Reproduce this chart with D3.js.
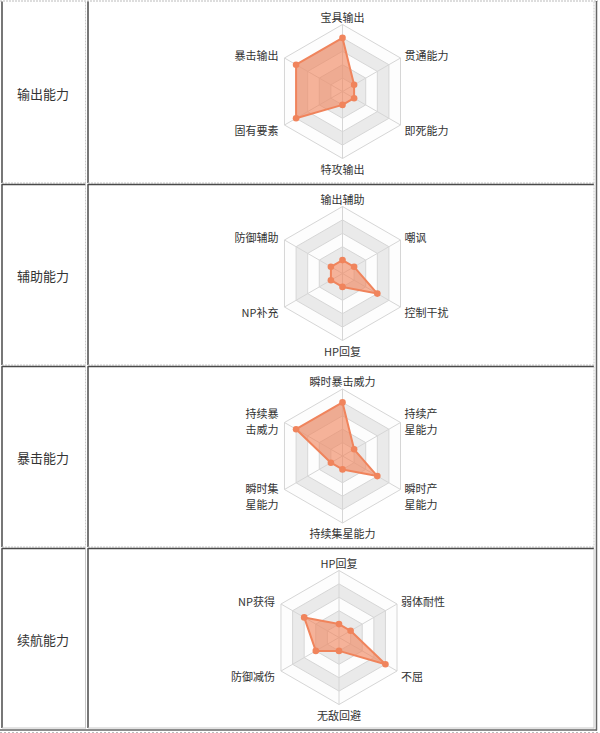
<!DOCTYPE html>
<html><head><meta charset="utf-8">
<script src="https://cdn.jsdelivr.net/npm/d3@7/dist/d3.min.js"></script>
<style>html,body{margin:0;padding:0;background:#fff;}svg{display:block;}</style>
</head><body>
<svg id="chart" width="600" height="733"></svg>
<script>
const rowTitles = ["输出能力", "辅助能力", "暴击能力", "续航能力"];
const axes1 = ["宝具输出", "贯通能力", "即死能力", "特攻输出", "固有要素", "暴击输出"];
const values1 = [4, 1, 1, 1, 4, 4];
const axes2 = ["输出辅助", "嘲讽", "控制干扰", "HP回复", "NP补充", "防御辅助"];
const values2 = [1, 1, 3, 1, 1, 1];
const axes3 = ["瞬时暴击威力", "持续产星能力", "瞬时产星能力", "持续集星能力", "瞬时集星能力", "持续暴击威力"];
const values3 = [4, 1, 3, 1, 1, 4];
const axes4 = ["HP回复", "弱体耐性", "不屈", "无敌回避", "防御减伤", "NP获得"];
const values4 = [1, 1, 4, 1, 2, 3];
const maxValue = 5;
const levels = [1, 2, 3, 4, 5];

const charts = [
  {axes: axes1, values: values1},
  {axes: axes2, values: values2},
  {axes: axes3, values: values3},
  {axes: axes4, values: values4}
];

const svg = d3.select("#chart");
const font = "'Noto Sans CJK SC', 'Noto Sans', sans-serif";
const rowTops = [1.5, 184.5, 366.5, 548.5];
const rowBottoms = [183, 365, 547, 728];
const centers = [[342.5, 91.5], [342.5, 273.5], [342.5, 456], [339, 637.5]];
const R = 67;
const dark = "#4a4a4a", light = "#c8c8c8";

// table borders
const g0 = svg.append("g");
g0.append("line").attr("x1", 0).attr("x2", 598).attr("y1", 1).attr("y2", 1)
  .attr("stroke", "#bbb").attr("stroke-dasharray", "2,1");
rowTops.forEach((t, i) => {
  const b = rowBottoms[i];
  [[2, 85.5], [88, 594]].forEach(([l, r]) => {
    if (i > 0) g0.append("line").attr("x1", l - 0.5).attr("x2", r).attr("y1", t).attr("y2", t)
      .attr("stroke", dark).attr("stroke-width", 1.5);
    g0.append("line").attr("x1", l).attr("x2", l).attr("y1", t).attr("y2", b)
      .attr("stroke", dark).attr("stroke-width", 1.5);
    g0.append("line").attr("x1", r).attr("x2", r).attr("y1", t).attr("y2", b + 0.5)
      .attr("stroke", light).attr("stroke-width", 1).attr("stroke-dasharray", i === 3 ? null : "2,1");
    g0.append("line").attr("x1", l).attr("x2", r).attr("y1", b).attr("y2", b)
      .attr("stroke", light).attr("stroke-width", 1).attr("stroke-dasharray", i === 3 ? null : "2,1");
  });
});
g0.append("line").attr("x1", 596.5).attr("x2", 596.5).attr("y1", 1).attr("y2", 730.5)
  .attr("stroke", "#666").attr("stroke-width", 1.5);
g0.append("line").attr("x1", 0).attr("x2", 597).attr("y1", 730).attr("y2", 730)
  .attr("stroke", "#666").attr("stroke-width", 1.5);
g0.append("line").attr("x1", 0).attr("x2", 598).attr("y1", 732.5).attr("y2", 732.5)
  .attr("stroke", "#bbb").attr("stroke-dasharray", "2,2");

// row titles
rowTitles.forEach((t, i) => {
  svg.append("text").attr("x", 43).attr("y", (rowTops[i] + rowBottoms[i]) / 2 + 1)
    .attr("text-anchor", "middle").attr("dominant-baseline", "central")
    .attr("font-family", font).attr("font-size", 13).attr("fill", "#333").text(t);
});

const rScale = d3.scaleLinear().domain([0, maxValue]).range([0, R]);
const angle = i => -Math.PI / 2 + i * Math.PI / 3;

charts.forEach((c, ci) => {
  const [cx, cy] = centers[ci];
  const g = svg.append("g").attr("transform", `translate(${cx},${cy})`);
  const n = c.axes.length;
  const pt = (i, v) => [rScale(v) * Math.cos(angle(i)), rScale(v) * Math.sin(angle(i))];
  const ringPath = v => d3.range(n).map(i => pt(i, v));
  const line = d3.line().curve(d3.curveLinearClosed);
  // split areas
  levels.slice().reverse().forEach(lv => {
    const inner = lv - 1;
    const fill = (lv % 2 === 0) ? "#eaeaea" : "#fdfdfd";
    const outer = ringPath(lv);
    let d = line(outer);
    if (inner > 0) d += line(ringPath(inner).slice().reverse());
    g.append("path").attr("d", d).attr("fill", fill).attr("fill-rule", "evenodd");
  });
  levels.forEach(lv => {
    g.append("path").attr("d", line(ringPath(lv))).attr("fill", "none")
      .attr("stroke", "#d6d6d6").attr("stroke-width", 1);
  });
  d3.range(n).forEach(i => {
    const [x, y] = pt(i, maxValue);
    g.append("line").attr("x1", 0).attr("y1", 0).attr("x2", x).attr("y2", y)
      .attr("stroke", "#d6d6d6").attr("stroke-width", 1);
  });
  // series
  const pts = c.values.map((v, i) => pt(i, v));
  g.append("path").attr("d", line(pts)).attr("fill", "#f0845c").attr("fill-opacity", 0.62)
    .attr("stroke", "#f0845c").attr("stroke-width", 2).attr("stroke-linejoin", "round");
  g.selectAll("circle.p").data(pts).enter().append("circle")
    .attr("cx", d => d[0]).attr("cy", d => d[1]).attr("r", 3.3).attr("fill", "#f0845c");
  // labels
  c.axes.forEach((name, i) => {
    const [vx, vy] = pt(i, maxValue);
    let lines = [name];
    if (i !== 0 && i !== 3 && name.length >= 6) lines = [name.slice(0, 3), name.slice(3)];
    let anchor = "middle", x = vx, ys;
    if (i === 0) ys = [vy - 8];
    else if (i === 3) ys = [vy + 10];
    else {
      anchor = (i === 1 || i === 2) ? "start" : "end";
      x = (i === 1 || i === 2) ? vx + 4 : vx - 6;
      const upper = (i === 1 || i === 5);
      if (lines.length === 1) ys = [upper ? vy - 3.5 : vy + 5];
      else ys = upper ? [vy - 10, vy + 6] : [vy - 2, vy + 14];
    }
    const t = g.append("text").attr("x", x).attr("y", ys[0]).attr("text-anchor", anchor)
      .attr("dominant-baseline", "central").attr("font-family", font).attr("font-size", 11)
      .attr("fill", "#333");
    lines.forEach((l, k) => {
      t.append("tspan").attr("x", x).attr("y", ys[k]).attr("dominant-baseline", "central").text(l);
    });
  });
});
</script>
</body></html>
